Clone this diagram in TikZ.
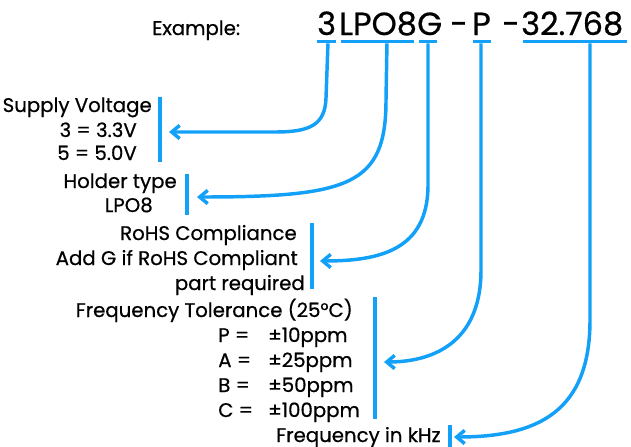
\documentclass[tikz,border=0pt]{standalone}
\usepackage{fontspec}
\setmainfont{Poppins}[UprightFeatures={FakeBold=0.6}]
\usetikzlibrary{arrows.meta}
\definecolor{cblue}{RGB}{18,160,248}
\begin{document}
\begin{tikzpicture}[x=0.75pt,y=-0.75pt,
  txt/.style={inner sep=0pt,font=\fontsize{14.8}{16}\selectfont,text=black},
  codetxt/.style={inner sep=0pt,font=\fontsize{24}{28}\selectfont,text=black,anchor=base west},
  ubar/.style={fill=cblue,inner sep=0pt,minimum height=2.4pt},
  sbar/.style={fill=cblue,inner sep=0pt,minimum width=2.6pt},
  conn/.style={draw=cblue,line width=2.6pt,-{Straight Barb[length=6pt,width=10pt]}}]
\useasboundingbox (0,0) rectangle (631,446);
% example code
\node[txt,anchor=base west] (ex) at (152,35) {Example:};
\node[codetxt] (n3) at (317,35) {3};
\node[codetxt] (nL) at (339,35) {LPO8};
\node[codetxt] (nG) at (417,35) {G};
\node[codetxt] (d1) at (450,35) {-};
\node[codetxt] (nP) at (472,35) {P};
\node[codetxt] (d2) at (502,35) {-};
\node[codetxt] (nF) at (521,35) {32.768};
% underline bars
\node[ubar,minimum width=14.25pt] (u3) at (326.5,41.5) {};
\node[ubar,minimum width=54.75pt] (uL) at (377.5,41.5) {};
\node[ubar,minimum width=13.5pt] (uG) at (428,41.5) {};
\node[ubar,minimum width=13.5pt] (uP) at (482,41.5) {};
\node[ubar,minimum width=78pt] (uF) at (575,41.5) {};
% side bars
\node[sbar,minimum height=48.75pt] (b1) at (160,129.5) {};
\node[sbar,minimum height=30.75pt] (b2) at (187,194.5) {};
\node[sbar,minimum height=49.5pt] (b3) at (312,256) {};
\node[sbar,minimum height=91.5pt] (b4) at (375,358) {};
\node[sbar,minimum height=18pt] (b5) at (450,437) {};
% arrow tips
\coordinate (t1) at (169,132);
\coordinate (t2) at (197,197);
\coordinate (t3) at (320,261);
\coordinate (t4) at (384,362);
\coordinate (t5) at (454,437);
% texts
\node[txt,anchor=base east] (s1) at (152,112) {Supply Voltage};
\node[txt,anchor=base east] (s2) at (137,137) {3 = 3.3V};
\node[txt,anchor=base east] (s3) at (137,160) {5 = 5.0V};
\node[txt,anchor=base east] (h1) at (177,188) {Holder type};
\node[txt,anchor=base east] (h2) at (153,212) {LPO8};
\node[txt,anchor=base east] (r1) at (297,240) {RoHS Compliance};
\node[txt,anchor=base east] (r2) at (298,265) {Add G if RoHS Compliant};
\node[txt,anchor=base east] (r3) at (305,290) {part required};
\node[txt,anchor=base east] (f1) at (353,317) {Frequency Tolerance (25°C)};
\node[txt,anchor=base west] (f2) at (218,342) {\makebox[37.5pt][l]{P =}±10ppm};
\node[txt,anchor=base west] (f3) at (218,367) {\makebox[37.5pt][l]{A =}±25ppm};
\node[txt,anchor=base west] (f4) at (218,392) {\makebox[37.5pt][l]{B =}±50ppm};
\node[txt,anchor=base west] (f5) at (218,417) {\makebox[37.5pt][l]{C =}±100ppm};
\node[txt,anchor=base west] (k1) at (276,442) {Frequency in kHz};
% connectors
\draw[conn] ([xshift=1.1pt]u3.south) -- (326,98) .. controls (325,125) and (310,132) .. (275,132) -- (t1);
\draw[conn] ([xshift=7.1pt]uL.south) -- (386,100) .. controls (386,185) and (350,197) .. (t2);
\draw[conn] (uG.south) -- (428,185) .. controls (428,250) and (380,261) .. (t3);
\draw[conn] ([xshift=-0.75pt]uP.south) -- (481,270) .. controls (481,345) and (430,362) .. (t4);
\draw[conn] ([xshift=11.25pt]uF.south) -- (590,320) .. controls (590,410) and (540,437) .. (t5);
\end{tikzpicture}
\end{document}
